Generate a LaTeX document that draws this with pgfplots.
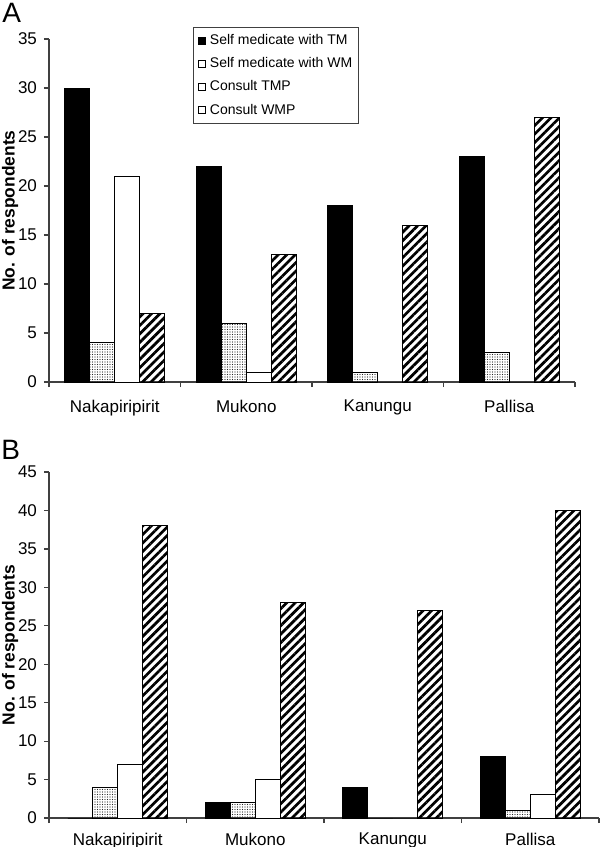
\documentclass[border=0pt]{standalone}
\usepackage{fontspec}
\setmainfont{Liberation Sans}
\usepackage{pgfplots}
\pgfplotsset{compat=1.18}
\usetikzlibrary{patterns.meta}

\newcommand{\sz}{\fontsize{7}{8.4}\selectfont}
\newcommand{\tk}{\fontsize{8.5}{10}\selectfont}
\newcommand{\lb}{\fontsize{8.7}{10.5}\selectfont\bfseries}

\pgfplotsset{
  mybars/.style={
    ybar=0pt, bar width=12.5pt, scale only axis,
    xmin=-0.5, xmax=3.5, ymin=0, enlargelimits=false,
    axis x line*=bottom, axis y line*=left,
    axis line style={-, black!75, line width=0.6pt},
    tick align=outside, major tick length=2.5pt,
    tick style={black!75, line width=0.6pt},
    xtick={-0.5,0.5,1.5,2.5,3.5}, xticklabels={},
    extra x ticks={0,1,2,3},
    extra x tick labels={Nakapiripirit,Mukono,Kanungu,Pallisa},
    ytick distance=5,
    ticklabel style={font=\tk},
    /pgf/number format/assume math mode=true,
    ylabel={No. of respondents},
    clip=false,
  },
  legimg/.style={legend image code/.code={\draw[black, fill=#1, line width=0.4pt] (0pt,-1.75pt) rectangle (3.5pt,1.75pt);}},
  tmbar/.style={fill=black, draw=black, line width=0.5pt, legimg=black},
  wmbar/.style={draw=black, line width=0.5pt, pattern={Dots[distance=1.25pt,radius=0.36pt]}, pattern color=black!85, legimg=white},
  tmpbar/.style={fill=white, draw=black, line width=0.5pt, legimg=white},
  wmpbar/.style={draw=black, line width=0.5pt, pattern={Lines[angle=45,distance=3pt,line width=1.35pt]}, pattern color=black, legimg=white},
}

\begin{document}
\begin{tikzpicture}
\path[use as bounding box] (0,0) rectangle (300pt,-423.5pt);

\node[anchor=base west, font=\fontsize{14}{16}\selectfont, inner sep=0] at (1pt,-11.2pt) {A};
\node[anchor=base west, font=\fontsize{14}{16}\selectfont, inner sep=0] at (0.5pt,-229.5pt) {B};

% Panel A
\begin{axis}[mybars,
  at={(24.5pt,-191pt)}, anchor=south west,
  width=263pt, height=171.5pt, ymax=35,
  extra x tick style={major tick length=0pt, xticklabel style={yshift=-5.5pt}},
  every axis y label/.style={at={(axis description cs:-0.074,0.5)}, rotate=90, anchor=center, font=\lb},
  legend cell align=left,
  legend style={at={(rel axis cs:0.2738,1.035)}, anchor=north west,
    draw=black!75, line width=0.5pt, font=\sz, fill=white,
    row sep=3.3pt, column sep=1.2pt, inner xsep=2.3pt, inner ysep=2.4pt,
    nodes={inner sep=0.8pt, text height=5.3pt, text depth=1.4pt}},
]
\addplot[tmbar] coordinates {(0,30) (1,22) (2,18) (3,23)};
\addlegendentry{Self medicate with TM}
\addplot[wmbar] coordinates {(0,4) (1,6) (2,1) (3,3)};
\addlegendentry{Self medicate with WM}
\addplot[tmpbar] coordinates {(0,21) (1,1) (2,0) (3,0)};
\addlegendentry{Consult TMP}
\addplot[wmpbar] coordinates {(0,7) (1,13) (2,16) (3,27)};
\addlegendentry{Consult WMP}
\end{axis}

% Panel B
\begin{axis}[mybars,
  at={(24.5pt,-409pt)}, anchor=south west,
  width=275pt, height=173pt, ymax=45,
  extra x tick style={major tick length=0pt, xticklabel style={yshift=-4pt}},
  every axis y label/.style={at={(axis description cs:-0.0708,0.5)}, rotate=90, anchor=center, font=\lb},
]
\addplot[tmbar] coordinates {(0,0) (1,2) (2,4) (3,8)};
\addplot[wmbar] coordinates {(0,4) (1,2) (2,0) (3,1)};
\addplot[tmpbar] coordinates {(0,7) (1,5) (2,0) (3,3)};
\addplot[wmpbar] coordinates {(0,38) (1,28) (2,27) (3,40)};
\end{axis}
\end{tikzpicture}
\end{document}
